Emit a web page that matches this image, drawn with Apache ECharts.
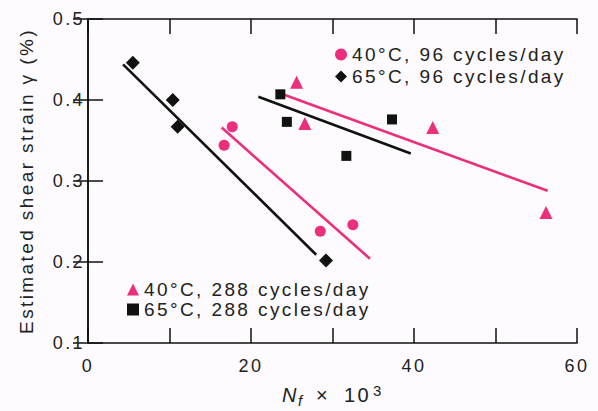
<!DOCTYPE html>
<html>
<head>
<meta charset="utf-8">
<script src="https://cdn.jsdelivr.net/npm/echarts@6/dist/echarts.min.js"></script>
<style>
  html, body { margin: 0; padding: 0; background: #fdfbfd; }
  #chart { width: 598px; height: 411px; }
  /* the original typesetting is widely tracked */
  #chart text { letter-spacing: 2.4px; }
</style>
</head>
<body>
<div id="chart"></div>
<script>
// measured points, [Nf x 10^3, strain %]
const c40_96 = [[16.7, 0.344], [17.7, 0.367], [28.5, 0.238], [32.5, 0.246]];
const c65_96 = [[5.5, 0.446], [10.4, 0.400], [11.0, 0.367], [29.2, 0.202]];
const c40_288 = [[25.6, 0.422], [26.6, 0.371], [42.3, 0.366], [56.2, 0.261]];
const c65_288 = [[23.6, 0.407], [24.4, 0.373], [31.7, 0.331], [37.3, 0.376]];

// fitted lines (end points)
const fit40_96 = [[16.4, 0.366], [34.6, 0.204]];
const fit65_96 = [[4.3, 0.444], [28.0, 0.209]];
const fit40_288 = [[23.9, 0.407], [56.4, 0.288]];
const fit65_288 = [[20.9, 0.404], [39.6, 0.334]];

const xLabels = [0, 20, 40, 60];

const PINK = '#ec2f7c';
const BLACK = '#111111';
const TXT = '#222222';
const FONT = '"Liberation Sans", Arial, sans-serif';

const chart = echarts.init(document.getElementById('chart'), null, {renderer: 'svg'});

function fitLine(data, color) {
  return {
    type: 'line',
    data: data,
    showSymbol: false,
    silent: true,
    lineStyle: {color: color, width: 2.6},
    z: 1
  };
}

function points(name, data, symbol, size, color) {
  return {
    type: 'scatter',
    name: name,
    data: data,
    symbol: symbol,
    symbolSize: size,
    itemStyle: {color: color, opacity: 1},
    z: 3
  };
}

const tickStyle = {show: true, inside: true, length: 15, lineStyle: {color: BLACK, width: 1.5}};
const lineStyle = {show: true, lineStyle: {color: BLACK, width: 1.5}};

let option = {
  backgroundColor: '#fdfbfd',
  animation: false,
  textStyle: {fontFamily: FONT},
  grid: {left: 88, right: 21, top: 19, bottom: 68},
  legend: [
    {
      orient: 'vertical', left: 330, top: 40, itemGap: 3,
      itemWidth: 12, itemHeight: 12,
      data: [
        {name: '40°C, 96 cycles/day', icon: 'circle'},
        {name: '65°C, 96 cycles/day', icon: 'diamond'}
      ],
      textStyle: {fontSize: 19, color: TXT, fontFamily: FONT}
    },
    {
      orient: 'vertical', left: 122, top: 275, itemGap: 1,
      itemWidth: 12, itemHeight: 12,
      data: [
        {name: '40°C, 288 cycles/day', icon: 'triangle'},
        {name: '65°C, 288 cycles/day', icon: 'rect'}
      ],
      textStyle: {fontSize: 19, color: TXT, fontFamily: FONT}
    }
  ],
  xAxis: [
    {
      type: 'value', min: 0, max: 60, interval: 10, position: 'bottom',
      axisLine: lineStyle, axisTick: tickStyle, splitLine: {show: false},
      axisLabel: {
        margin: 14, fontSize: 18, color: TXT, fontFamily: FONT,
        formatter: v => xLabels.includes(v) ? String(v) : ''
      }
    },
    {
      type: 'value', min: 0, max: 60, interval: 10, position: 'top',
      axisLine: lineStyle, axisTick: tickStyle, splitLine: {show: false},
      axisLabel: {show: false}
    }
  ],
  yAxis: [
    {
      type: 'value', min: 0.1, max: 0.5, interval: 0.1, position: 'left',
      name: 'Estimated shear strain γ (%)', nameLocation: 'middle', nameGap: 52,
      nameTextStyle: {fontSize: 19, color: TXT, fontFamily: FONT},
      axisLine: lineStyle, axisTick: tickStyle, splitLine: {show: false},
      axisLabel: {
        margin: 3, fontSize: 18, color: TXT, fontFamily: FONT,
        formatter: v => v.toFixed(1)
      }
    },
    {
      type: 'value', min: 0.1, max: 0.5, interval: 0.1, position: 'right',
      axisLine: lineStyle, axisTick: tickStyle, splitLine: {show: false},
      axisLabel: {show: false}
    }
  ],
  graphic: [
    {type: 'text', x: 282, y: 395, style: {text: 'N', font: 'italic 20px ' + FONT, fill: TXT, verticalAlign: 'middle'}},
    {type: 'text', x: 298, y: 400, style: {text: 'f', font: 'italic 15px ' + FONT, fill: TXT, verticalAlign: 'middle'}},
    {type: 'text', x: 316, y: 395, style: {text: '×', font: '20px ' + FONT, fill: TXT, verticalAlign: 'middle'}},
    {type: 'text', x: 344, y: 395, style: {text: '10', font: '20px ' + FONT, fill: TXT, verticalAlign: 'middle'}},
    {type: 'text', x: 373, y: 390, style: {text: '3', font: '15px ' + FONT, fill: TXT, verticalAlign: 'middle'}}
  ],
  series: [
    fitLine(fit40_96, PINK),
    fitLine(fit65_96, BLACK),
    fitLine(fit40_288, PINK),
    fitLine(fit65_288, BLACK),
    points('40°C, 96 cycles/day', c40_96, 'circle', 11, PINK),
    points('65°C, 96 cycles/day', c65_96, 'diamond', 14, BLACK),
    points('40°C, 288 cycles/day', c40_288, 'triangle', 13, PINK),
    points('65°C, 288 cycles/day', c65_288, 'rect', 10, BLACK)
  ]
};

chart.setOption(option);
</script>
</body>
</html>
